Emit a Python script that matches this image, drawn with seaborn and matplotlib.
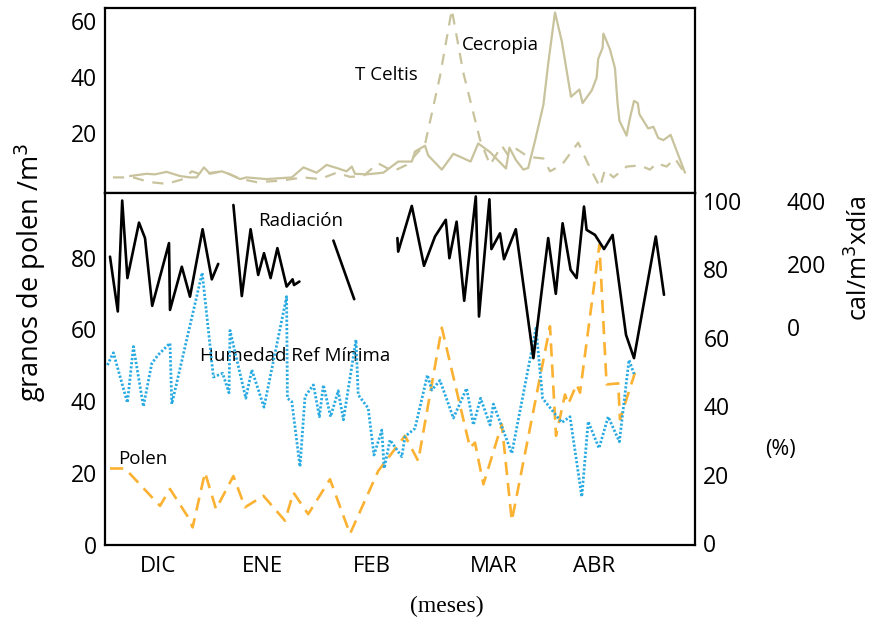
import numpy as np
import pandas as pd
import matplotlib
matplotlib.use("Agg")
import matplotlib.pyplot as plt
import seaborn as sns

sns.set_theme(style="white")
plt.rcParams['font.family'] = ['Open Sans', 'DejaVu Sans']
plt.rcParams['text.color'] = 'black'
plt.rcParams['xtick.color'] = 'black'
plt.rcParams['ytick.color'] = 'black'
plt.rcParams['axes.labelcolor'] = 'black'

# ---------------- data ----------------
months = ["DIC", "ENE", "FEB", "MAR", "ABR"]
month_pos = [13.25, 39.25, 66.75, 97.25, 122.25]

# Cecropia (granos/m3) - top panel
cec_day = [6.25, 10.4, 12.5, 15.4, 18.75, 21.25, 22.9, 24.75, 26.25, 29.2, 31.25, 33.75, 35.4,
           40.4, 46.7, 49.6, 52.9, 55.4, 57.9, 60.4, 61.7, 62.5, 65.4, 69.6, 73.3, 76.7, 77.5,
           80.0, 80.8, 84.2, 87.1, 91.4, 93.3, 96.25, 100.25, 101.1, 102.75, 104.6, 105.8,
           107.5, 109.6, 110.8, 112.5, 114.2, 116.5, 118.6, 119.4, 121.7, 122.9, 123.3, 124.4,
           124.6, 126.25, 127.5, 128.1, 128.6, 130.4, 131.1, 132.25, 133.2, 133.6, 135.8,
           137.1, 138.3, 139.6, 141.4, 145.0]
cec_val = [4.4, 5.2, 5.0, 5.9, 4.4, 3.9, 3.9, 7.5, 5.2, 6.1, 5.0, 3.3, 3.9,
           3.3, 3.9, 7.5, 5.6, 8.4, 7.3, 6.1, 7.8, 5.2, 5.0, 5.6, 9.6, 9.6, 13.2,
           15.3, 11.8, 6.7, 12.4, 9.6, 16.1, 13.0, 7.1, 14.6, 10.1, 6.7, 7.3,
           17.0, 30.0, 44.8, 63.2, 52.8, 32.9, 35.5, 30.6, 35.2, 39.7, 46.5, 50.5,
           55.6, 49.9, 43.1, 31.2, 24.3, 18.9, 24.3, 31.4, 30.6, 26.6, 21.5,
           22.1, 18.1, 17.3, 19.2, 5.6]

# T Celtis (granos/m3) - top panel
cel_day = [2.0, 7.0, 11.25, 15.4, 19.6, 21.7, 23.75, 29.5, 33.75, 37.9, 43.75, 49.6, 53.75,
           57.9, 61.25, 64.6, 68.25, 72.0, 75.4, 80.0, 83.75, 86.7, 89.6, 93.75, 96.25,
           99.2, 100.8, 102.9, 105.8, 109.6, 111.25, 114.2, 118.3, 121.25, 123.75, 125.0,
           127.1, 130.4, 133.75, 136.25, 137.9, 140.4, 142.5, 144.6]
cel_val = [3.9, 3.9, 2.2, 1.6, 3.3, 6.1, 5.1, 6.1, 3.4, 2.2, 2.7, 3.9, 3.3,
           5.6, 4.1, 4.4, 9.0, 6.1, 8.4, 15.8, 40.3, 64.2, 41.4, 17.5, 8.4,
           15.3, 11.8, 14.1, 11.3, 10.7, 6.1, 8.4, 16.4, 7.3, 0.4, 6.7,
           3.9, 7.8, 8.2, 6.7, 9.0, 7.8, 10.7, 6.1]

# Radiacion (cal/m3 x dia) - bottom panel, segments with gaps
rad_seg = [1]*14 + [2]*11 + [3]*2 + [4]*31
rad_day = [1.25, 3.2, 4.3, 5.6, 8.5, 10.0, 11.8, 16.0, 16.25, 19.2, 21.25, 24.4, 26.7, 28.3,
           32.1, 34.2, 36.4, 38.3, 39.75, 41.4, 43.1, 45.4, 46.9, 47.25, 48.6,
           57.1, 62.3,
           73.1, 73.3, 76.7, 79.75, 82.5, 85.2, 86.1, 87.9, 89.8, 92.7, 93.5, 96.1, 96.6,
           98.75, 99.75, 102.7, 107.1, 110.8, 112.7, 114.4, 116.4, 117.9, 119.75, 120.4,
           122.5, 124.75, 126.9, 130.25, 132.25, 137.7, 139.75]
rad_val = [223, 49, 401, 155, 331, 282, 67, 266, 54, 191, 96, 310, 151, 200,
           387, 98, 310, 165, 234, 155, 250, 128, 151, 133, 144,
           274, 88,
           282, 239, 384, 194, 287, 340, 218, 334, 83, 414, 33, 405, 247,
           297, 215, 310, -99, 282, 105, 329, 181, 155, 382, 308,
           292, 247, 292, -25, -99, 287, 102]

# Humedad relativa minima (%)
hum_day = [0.6, 2.1, 5.6, 7.1, 9.6, 11.7, 13.3, 16.25, 16.7, 24.3, 27.1, 29.4, 31.0, 31.25,
           35.2, 36.7, 39.75, 45.4, 45.6, 46.7, 48.75, 50.0, 52.1, 53.6, 54.6, 56.4, 58.3,
           59.6, 62.75, 63.3, 65.8, 67.25, 69.2, 69.8, 71.25, 74.2, 75.0, 77.5, 80.6, 81.7,
           83.75, 87.1, 90.4, 92.1, 93.9, 96.25, 97.1, 101.7, 107.75, 109.4, 114.2, 116.25,
           119.2, 120.8, 123.5, 125.8, 128.6, 131.0, 132.25]
hum_val = [52.0, 55.6, 41.0, 57.4, 39.9, 52.5, 55.0, 58.4, 40.6, 79.0, 48.5, 49.6, 43.9, 62.1,
           42.3, 50.6, 39.7, 72.0, 42.3, 41.3, 22.3, 42.8, 46.2, 36.9, 46.2, 36.9, 44.5,
           36.0, 59.4, 43.3, 39.4, 25.7, 33.0, 21.8, 30.1, 25.2, 31.1, 33.5, 49.1, 44.7,
           47.5, 36.5, 45.2, 34.5, 42.3, 34.5, 40.6, 26.2, 62.8, 42.3, 35.2, 36.9,
           13.5, 35.5, 27.7, 36.9, 29.6, 53.5, 49.4]

# Polen total (granos/m3)
pol_day = [1.25, 5.0, 13.75, 16.25, 20.8, 21.9, 25.0, 27.75, 31.25, 32.1, 35.0, 39.6, 45.0,
           47.1, 50.8, 56.25, 61.25, 68.3, 75.0, 78.3, 84.2, 91.25, 92.5, 94.6, 99.2, 101.7,
           111.25, 112.75, 115.0, 115.8, 117.9, 118.75, 123.6, 125.4, 128.3, 128.75, 132.5]
pol_val = [21.3, 21.3, 10.9, 15.6, 7.7, 4.9, 20.2, 10.0, 17.4, 19.2, 10.5, 13.7, 6.75,
           14.6, 8.6, 18.3, 3.1, 20.6, 30.4, 23.4, 60.5, 27.1, 28.5, 16.9, 33.6, 6.75,
           60.9, 30.4, 41.9, 39.2, 44.7, 42.4, 83.6, 44.7, 45.0, 35.0, 48.0]

df_cec = pd.DataFrame({"dia": cec_day, "v": cec_val})
df_cel = pd.DataFrame({"dia": cel_day, "v": cel_val})
df_rad = pd.DataFrame({"dia": rad_day, "v": rad_val, "seg": rad_seg})
df_hum = pd.DataFrame({"dia": hum_day, "v": hum_val})
df_pol = pd.DataFrame({"dia": pol_day, "v": pol_val})

KHAKI = "#c8c39c"
BLUE = "#29abe2"
ORANGE = "#fbb131"

W, H = 880, 621
fig = plt.figure(figsize=(W/100, H/100), dpi=100)
L, R, T, M, B = 105, 695, 8, 193, 545
ax_top = fig.add_axes([L/W, 1-M/H, (R-L)/W, (M-T)/H])
ax_bot = fig.add_axes([L/W, 1-B/H, (R-L)/W, (B-M)/H])
ax_hum = ax_bot.twinx()
ax_rad = ax_bot.twinx()

XMAX = 147.5
fs_tick = 16.5
fs_ann = 13.5

# ---- top panel ----
sns.lineplot(data=df_cec, x="dia", y="v", ax=ax_top, color=KHAKI, lw=1.6,
             sort=False, estimator=None)
sns.lineplot(data=df_cel, x="dia", y="v", ax=ax_top, color=KHAKI, lw=1.6,
             sort=False, estimator=None, linestyle=(0, (5, 4)))
ax_top.set_xlim(0, XMAX)
ax_top.set_ylim(-1.7, 64.8)
ax_top.set_yticks([20, 40, 60])
ax_top.set_xticks([])
ax_top.set_xlabel("")
ax_top.set_ylabel("")
ax_top.tick_params(axis="y", length=0, pad=6, labelsize=fs_tick)
ax_top.text(62.5, 40.8, "T Celtis", fontsize=fs_ann, ha="left", va="center")
ax_top.text(89.25, 51.6, "Cecropia", fontsize=fs_ann, ha="left", va="center")

# ---- bottom panel ----
sns.lineplot(data=df_pol, x="dia", y="v", ax=ax_bot, color=ORANGE, lw=1.9,
             sort=False, estimator=None, linestyle=(0, (5, 3)))
ax_bot.set_xlim(0, XMAX)
ax_bot.set_ylim(0, 98)
ax_bot.set_yticks([0, 20, 40, 60, 80])
ax_bot.set_xticks(month_pos)
ax_bot.set_xticklabels(months)
ax_bot.set_xlabel("")
ax_bot.set_ylabel("")
ax_bot.tick_params(axis="y", length=0, pad=6, labelsize=fs_tick)
ax_bot.tick_params(axis="x", length=0, pad=8, labelsize=16)

sns.lineplot(data=df_hum, x="dia", y="v", ax=ax_hum, color=BLUE, lw=2.0,
             sort=False, estimator=None, linestyle=(0, (0.8, 0.7)))
ax_hum.set_xlim(0, XMAX)
ax_hum.set_ylim(-0.6, 102.3)
ax_hum.set_yticks([0, 20, 40, 60, 80, 100])
ax_hum.set_ylabel("")
ax_hum.tick_params(axis="y", length=0, pad=6, labelsize=fs_tick)

for s, g in df_rad.groupby("seg"):
    sns.lineplot(data=g, x="dia", y="v", ax=ax_rad, color="black", lw=1.9,
                 sort=False, estimator=None)
ax_rad.set_xlim(0, XMAX)
ax_rad.set_ylim(-692, 425)
ax_rad.set_yticks([0, 200, 400])
ax_rad.set_ylabel("")
ax_rad.spines["right"].set_position(("outward", 60))
ax_rad.tick_params(axis="y", length=0, pad=6, labelsize=fs_tick)

for a in (ax_hum, ax_rad):
    for sp in a.spines.values():
        sp.set_visible(False)
    a.grid(False)

for a in (ax_top, ax_bot):
    for sp in a.spines.values():
        sp.set_visible(True)
        sp.set_color("black")
        sp.set_linewidth(1.6)
    a.grid(False)

ax_bot.text(38.25, 90.2, "Radiación", fontsize=fs_ann, ha="left", va="center")
ax_bot.text(23.75, 52.7, "Humedad Ref Mínima", fontsize=fs_ann, ha="left", va="center")
ax_bot.text(3.25, 23.9, "Polen", fontsize=fs_ann, ha="left", va="center")

fig.text(780/W, 1-450/H, "(%)", fontsize=15.5, ha="center", va="center")
fig.text(860/W, 1-258/H, "cal/m$^3$xdía", fontsize=18, rotation=90, ha="center", va="center")
fig.text(30/W, 1-272/H, "granos de polen /m$^3$", fontsize=19.5, rotation=90, ha="center", va="center")
fig.text(447/W, 1-606/H, "(meses)", fontsize=17, ha="center", va="center",
         family=["Liberation Serif", "DejaVu Serif"])

fig.savefig("out.png", dpi=100)
